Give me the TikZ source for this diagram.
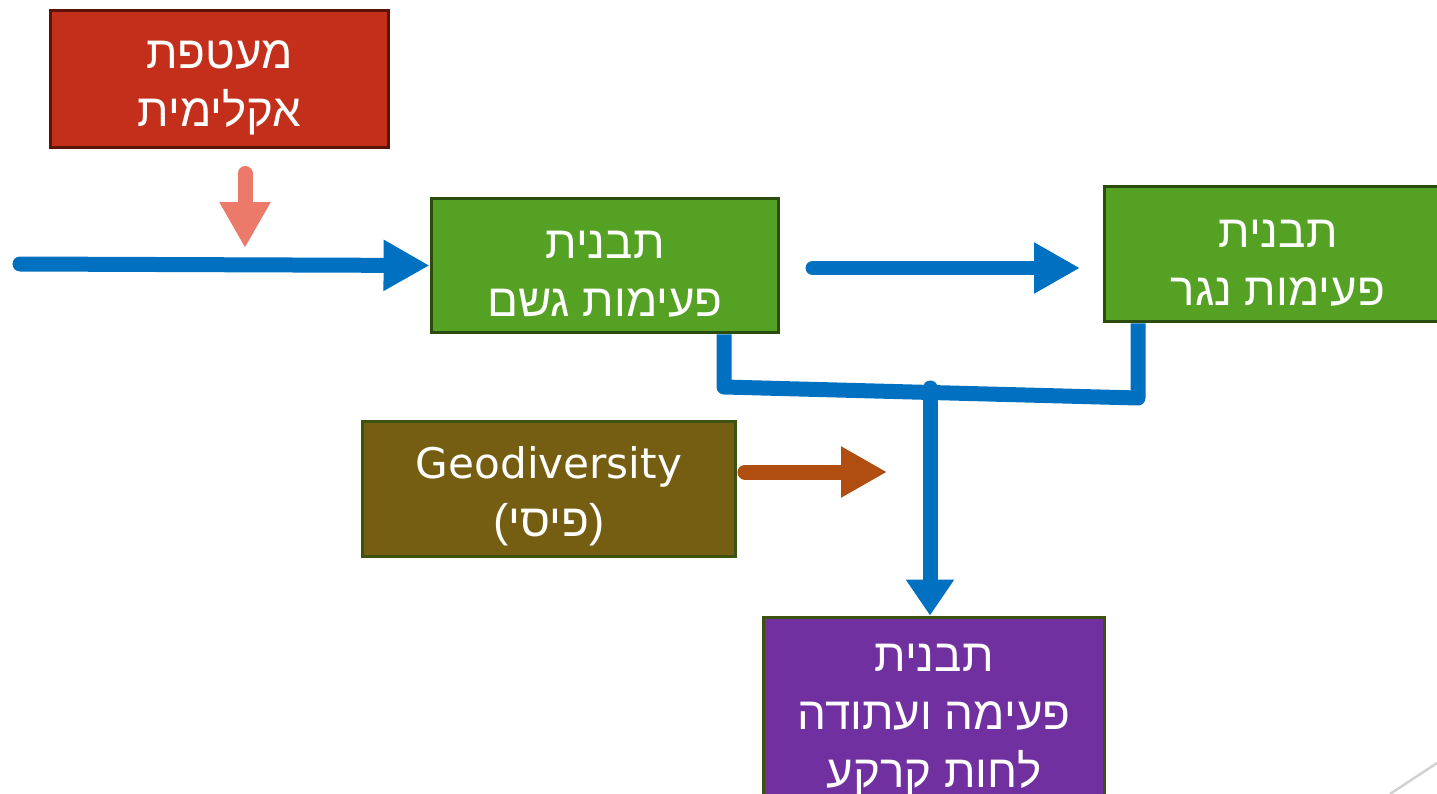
\documentclass[tikz,border=0pt]{standalone}
\usepackage{fontspec}
\setmainfont{Liberation Sans}
\newfontfamily\hebfont[Script=Hebrew]{Liberation Sans}
\newfontfamily\geofont{DejaVu Sans}
\TeXXeTstate=1
\usetikzlibrary{arrows.meta}

\definecolor{flowblue}{HTML}{0070C0}
\definecolor{climred}{HTML}{C32F1A}
\definecolor{climedge}{HTML}{5A1408}
\definecolor{rainfill}{HTML}{55A124}
\definecolor{rainedge}{HTML}{2B4B0F}
\definecolor{geofill}{HTML}{755E11}
\definecolor{geoedge}{HTML}{3D5210}
\definecolor{soilfill}{HTML}{7030A0}
\definecolor{climarrow}{HTML}{EC7A6A}
\definecolor{geoarrow}{HTML}{B04E12}

% strut that pushes the first line down
\newcommand\lift{\rule{0pt}{26pt}}

\begin{document}
\begin{tikzpicture}[x=0.02cm,y=-0.02cm,
  box/.style={rectangle,line width=1.7pt,text=white,align=center,inner sep=0pt,
    font=\hebfont\fontsize{26}{33}\selectfont},
  flow/.style={line width=0.3cm,flowblue,line cap=round,
    -{Triangle[width=0.96cm,length=0.92cm]}}]

\clip (0,0) rectangle (1437,794);

% Nodes
\node[box,fill=climred,draw=climedge,minimum width=6.78cm,minimum height=2.76cm] (climate) at (219.5,79) {\lift\beginR מעטפת\endR\\\beginR אקלימית\endR};
\node[box,fill=rainfill,draw=rainedge,minimum width=6.96cm,minimum height=2.7cm] (rain) at (605,265.5) {\lift\beginR תבנית\endR\\\beginR פעימות גשם\endR};
\node[box,fill=rainfill,draw=rainedge,minimum width=6.96cm,minimum height=2.72cm] (runoff) at (1278,254) {\lift\beginR תבנית\endR\\\beginR פעימות נגר\endR};
\node[box,fill=geofill,draw=geoedge,minimum width=7.48cm,minimum height=2.72cm] (geo) at (549,489) {\lift{\geofont\fontsize{24}{33}\selectfont Geodiversity}\\\beginR (פיסי)\endR};
\node[box,fill=soilfill,draw=geoedge,minimum width=6.84cm,minimum height=3.76cm] (soil) at (934,711) {\lift\beginR תבנית\endR\\\beginR פעימה ועתודה\endR\\\beginR לחות קרקע\endR};

% Free ends
\coordinate (clim-to) at (245,248);
\coordinate (rain-in) at (20,264);
\coordinate (runoff-from) at (813,268);
\coordinate (runoff-to) at (1080,268);
\coordinate (rain-out) at (724,387);
\coordinate (runoff-out) at (1138,398);
\coordinate (merge) at (930,388);
\coordinate (geo-to) at (887,472);

% The input arrows
\draw[flow,climarrow,shorten <=0.48cm] (climate.south -| clim-to) -- (clim-to);
\draw[flow] (rain-in) -- (rain.west);
\draw[flow] (runoff-from) -- (runoff-to);
\draw[flow,geoarrow,shorten <=0.15cm] (geo.east |- geo-to) -- (geo-to);

% The merging lines
\draw[flowblue,line width=0.3cm,line join=round] (rain.south -| rain-out) -- (rain-out) -- (runoff-out) -- (runoff.south -| runoff-out);
\draw[flow,-{Triangle[width=0.92cm,length=0.72cm]}] (merge) -- (merge |- soil.north);

% Slide corner
\draw[black!18,line width=1.4pt] (1390,794) -- (1437,763);

\end{tikzpicture}
\end{document}
